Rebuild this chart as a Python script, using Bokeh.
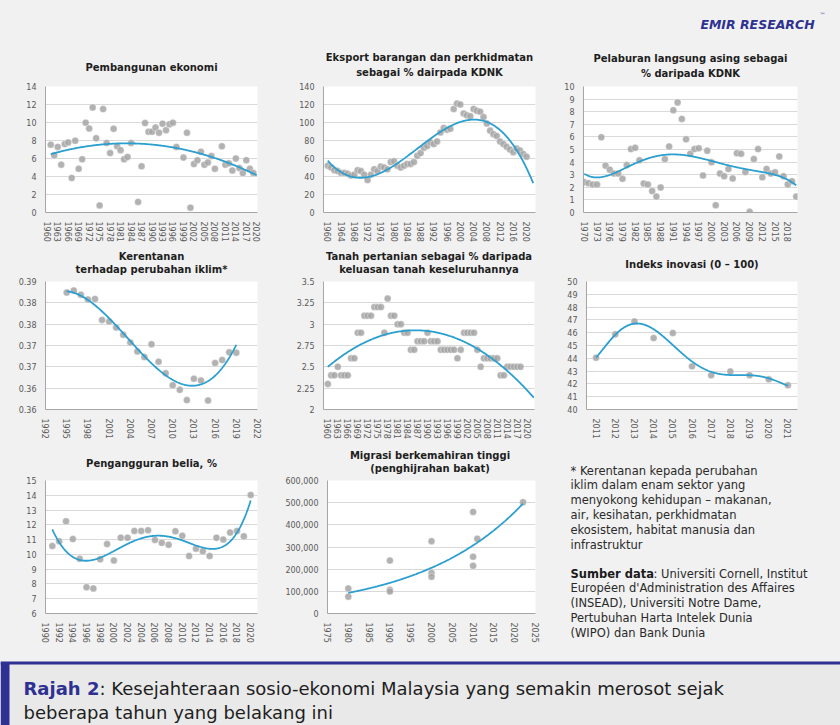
import numpy as np
from bokeh.plotting import figure
from bokeh.models import Range1d, FixedTicker, Label, NumeralTickFormatter, Span, BoxAnnotation
from bokeh.layouts import row, column
from bokeh.embed import file_html
from bokeh.resources import INLINE

# ---------------- DATA ----------------
gdp_years = [1961, 1962, 1963, 1964, 1965, 1966, 1967, 1968, 1969, 1970,
             1971, 1972, 1973, 1974, 1975, 1976, 1977, 1978, 1979, 1980,
             1981, 1982, 1983, 1984, 1986, 1987, 1988, 1989, 1990, 1991,
             1992, 1993, 1994, 1995, 1996, 1997, 1999, 2000, 2001, 2002,
             2003, 2004, 2005, 2006, 2007, 2008, 2010, 2011, 2012, 2013,
             2014, 2015, 2016, 2017, 2018, 2019]
gdp_vals = [7.54, 6.35, 7.29, 5.31, 7.6, 7.79, 3.84, 7.97, 4.85, 5.92,
            9.98, 9.33, 11.67, 8.26, 0.79, 11.49, 7.72, 6.6, 9.3, 7.36,
            6.93, 5.92, 6.17, 7.72, 1.18, 5.13, 9.94, 8.97, 8.97, 9.44,
            8.87, 9.87, 9.15, 9.8, 9.98, 7.29, 6.1, 8.87, 0.54, 5.38,
            5.81, 6.75, 5.31, 5.56, 6.28, 4.85, 7.36, 5.31, 5.46, 4.67,
            6.0, 4.95, 4.38, 5.81, 4.85, 4.4]
gdp_xticks = list(range(1960, 2021, 3))
gdp_yticks = [0, 2, 4, 6, 8, 10, 12, 14]

exp_years = list(range(1960, 2021))
exp_vals = [52, 50, 47, 46, 44, 44, 43, 41, 42, 47,
            46, 42, 36, 42, 48, 46, 51, 50, 48, 56,
            57, 52, 50, 52, 54, 54, 56, 63, 66, 72,
            74, 78, 76, 79, 89, 94, 92, 93, 115, 121,
            120, 110, 108, 107, 115, 113, 112, 106, 99, 91,
            87, 85, 79, 76, 73, 70, 67, 71, 69, 65, 62]
exp_xticks = list(range(1960, 2021, 4))
exp_yticks = [0, 20, 40, 60, 80, 100, 120, 140]

fdi_years = list(range(1970, 2021))
fdi_vals = [2.41, 2.33, 2.23, 2.23, 5.97, 3.72, 3.40, 3.09, 3.09, 2.67,
            3.77, 5.03, 5.13, 4.14, 2.30, 2.23, 1.70, 1.26, 1.99, 4.24,
            5.24, 8.12, 8.74, 7.43, 5.81, 4.66, 5.03, 5.10, 2.93, 4.90,
            3.98, 0.58, 3.09, 2.88, 3.46, 2.70, 4.71, 4.66, 3.22, 0.05,
            4.24, 5.03, 2.80, 3.46, 3.09, 3.19, 4.45, 2.88, 2.23, 2.49, 1.26]
fdi_xticks = list(range(1970, 2019, 3))
fdi_yticks = list(range(0, 11))

vul_years = list(range(1995, 2020))
vul_vals = [0.3824, 0.3829, 0.3819, 0.3808, 0.3809, 0.3760, 0.3756, 0.3742,
            0.3725, 0.3707, 0.3686, 0.3673, 0.3703, 0.3662, 0.3635, 0.3607,
            0.3596, 0.3572, 0.3622, 0.3618, 0.3571, 0.3659, 0.3666, 0.3684,
            0.3683]
vul_xticks = list(range(1992, 2023, 3))
vul_yticks = [0.355, 0.36, 0.365, 0.37, 0.375, 0.38, 0.385]
vul_ylabels = ["0.36", "0.36", "0.37", "0.37", "0.38", "0.38", "0.39"]

agr_years = list(range(1960, 2019))
agr_vals = [2.3, 2.4, 2.4, 2.5, 2.4, 2.4, 2.4, 2.6, 2.6, 2.9,
            2.9, 3.1, 3.1, 3.1, 3.2, 3.2, 3.2, 2.9, 3.3, 3.1,
            3.1, 3.0, 3.0, 2.9, 2.9, 2.7, 2.7, 2.8, 2.8, 2.8,
            2.9, 2.8, 2.8, 2.8, 2.7, 2.7, 2.7, 2.7, 2.7, 2.6,
            2.7, 2.9, 2.9, 2.9, 2.9, 2.7, 2.5, 2.6, 2.6, 2.6,
            2.6, 2.6, 2.4, 2.4, 2.5, 2.5, 2.5, 2.5, 2.5]
agr_xticks = list(range(1960, 2021, 3))
agr_yticks = [2.0, 2.25, 2.5, 2.75, 3.0, 3.25, 3.5]
agr_ylabels = ["2", "2.25", "2.5", "2.75", "3", "3.25", "3.5"]

gii_years = list(range(2011, 2022))
gii_vals = [44.05, 45.87, 46.88, 45.58, 45.97, 43.37, 42.68, 42.97, 42.68, 42.36, 41.89]
gii_xticks = list(range(2011, 2022))
gii_yticks = list(range(40, 51))

yun_years = list(range(1991, 2021))
yun_vals = [10.57, 10.89, 12.24, 11.04, 9.7, 7.78, 7.7, 9.67, 10.7, 9.59,
            11.13, 11.13, 11.59, 11.59, 11.63, 10.98, 10.78, 10.65, 11.57, 11.26,
            9.89, 10.39, 10.22, 9.89, 11.13, 11.0, 11.48, 11.59, 11.22, 14.02]
yun_xticks = list(range(1990, 2021, 2))
yun_yticks = list(range(6, 16))

mig_years = [1980, 1980, 1990, 1990, 1990, 2000, 2000, 2000, 2010, 2010, 2010, 2011, 2022]
mig_vals = [112700, 76100, 238600, 106900, 99600, 326500, 183000, 165400,
            458300, 256200, 215200, 336800, 502200]
mig_xticks = list(range(1975, 2026, 5))
mig_yticks = [0, 100000, 200000, 300000, 400000, 500000, 600000]

titles = {
    "p1": ["Pembangunan ekonomi"],
    "p2": ["Eksport barangan dan perkhidmatan", "sebagai % dairpada KDNK"],
    "p3": ["Pelaburan langsung asing sebagai", "% daripada KDNK"],
    "p4": ["Kerentanan", "terhadap perubahan iklim*"],
    "p5": ["Tanah pertanian sebagai % daripada", "keluasan tanah keseluruhannya"],
    "p6": ["Indeks inovasi (0 \u2013 100)"],
    "p7": ["Pengangguran belia, %"],
    "p8": ["Migrasi berkemahiran tinggi", "(penghijrahan bakat)"],
}

note_lines = ["* Kerentanan kepada perubahan",
              "iklim dalam enam sektor yang",
              "menyokong kehidupan \u2013 makanan,",
              "air, kesihatan, perkhidmatan",
              "ekosistem, habitat manusia dan",
              "infrastruktur"]
source_bold = "Sumber data"
source_lines = [": Universiti Cornell, Institut",
                "Europ\u00e9en d'Administration des Affaires",
                "(INSEAD), Universiti Notre Dame,",
                "Pertubuhan Harta Intelek Dunia",
                "(WIPO) dan Bank Dunia"]
caption_bold = "Rajah 2"
caption_1 = ": Kesejahteraan sosio-ekonomi Malaysia yang semakin merosot sejak"
caption_2 = "beberapa tahun yang belakang ini"

# ---------------- STYLE ----------------
BG = "#f1f1f1"
PT = "#a5a5a5"
TR = "#2b9fcf"
NAVY = "#2e3192"
FONT = "DejaVu Sans"
TICK = "#595959"


def trend_poly(x, y, deg, x0, x1):
    x = np.asarray(x, float)
    y = np.asarray(y, float)
    m = x.mean()
    c = np.polyfit(x - m, y, deg)
    xs = np.linspace(x0, x1, 300)
    return xs, np.polyval(c, xs - m)


def trend_exp(x, y, x0, x1):
    x = np.asarray(x, float)
    y = np.asarray(y, float)
    m = x.mean()
    c = np.polyfit(x - m, np.log(y), 1)
    xs = np.linspace(x0, x1, 300)
    return xs, np.exp(np.polyval(c, xs - m))


def panel(w, h, borders, xr, yr, xticks, yticks, ylabels=None, yfmt=None):
    l, r, t, b = borders
    p = figure(width=w, height=h, x_range=Range1d(*xr), y_range=Range1d(*yr),
               output_backend="svg", toolbar_location=None,
               min_border_left=l, min_border_right=r,
               min_border_top=t, min_border_bottom=b,
               background_fill_color="white", border_fill_color=BG,
               outline_line_color=None)
    p.xaxis.ticker = FixedTicker(ticks=xticks)
    p.yaxis.ticker = FixedTicker(ticks=yticks)
    p.xgrid.grid_line_color = None
    p.ygrid.ticker = FixedTicker(ticks=yticks)
    p.ygrid.grid_line_color = "#d9d9d9"
    for ax in (p.xaxis, p.yaxis):
        ax.axis_line_color = "#a6a6a6"
        ax.major_tick_line_color = None
        ax.minor_tick_line_color = None
        ax.major_label_text_font = FONT
        ax.major_label_text_font_size = "8px"
        ax.major_label_text_color = TICK
        ax.major_label_standoff = 3
    p.xaxis.major_label_orientation = "vertical"
    if ylabels is not None:
        p.yaxis.major_label_overrides = dict(zip(yticks, ylabels))
    if yfmt is not None:
        p.yaxis.formatter = yfmt
    return p


def dots(p, x, y):
    p.scatter(x, y, size=7, fill_color=PT, fill_alpha=0.85,
              line_color="white", line_alpha=0.55, line_width=0.7)


def tline(p, xs, ys, color=TR):
    p.line(xs, ys, line_color=color, line_width=1.8)


def blank(w, h, bg=BG):
    p = figure(width=w, height=h, x_range=Range1d(0, w), y_range=Range1d(h, 0),
               x_axis_type=None, y_axis_type=None, output_backend="svg",
               toolbar_location=None, min_border=0, background_fill_color=bg,
               border_fill_color=bg, outline_line_color=None)
    p.xgrid.visible = False
    p.ygrid.visible = False
    return p


def txt(p, x, y, s, size, bold=False, align="left", color="#1e1e1e", style=None):
    p.add_layout(Label(x=x, y=y, text=s, text_align=align, text_baseline="middle",
                       text_font=FONT,
                       text_font_style=style if style else ("bold" if bold else "normal"),
                       text_font_size=size, text_color=color))


def put_title(p, key, cx, ys):
    for s, yy in zip(titles[key], ys):
        txt(p, cx, yy, s, "10px", bold=True, align="center")


W1, W2, W3 = 282, 268, 290
WT = W1 + W2 + W3

sA = blank(WT, 80)
txt(sA, 757, 24, "EMIR RESEARCH", "12.5px", align="center", color=NAVY, style="bold italic")
txt(sA, 822, 14, "\u2122", "6px", align="center", color=NAVY)
put_title(sA, "p1", 151, [67])
put_title(sA, "p2", 429, [57, 72])
put_title(sA, "p3", 690, [58, 73])

p1 = panel(W1, 164, (45, 25, 6, 30), (1959.5, 2020.2), (0, 14), gdp_xticks, gdp_yticks)
dots(p1, gdp_years, gdp_vals)
tline(p1, *trend_poly(gdp_years, gdp_vals, 2, 1961, 2020))

p2 = panel(W2, 164, (41, 15, 6, 30), (1958.7, 2022.7), (0, 140), exp_xticks, exp_yticks)
dots(p2, exp_years, exp_vals)
tline(p2, *trend_poly(exp_years, exp_vals, 3, 1960, 2022))

p3 = panel(W3, 164, (33, 43, 6, 30), (1969.8, 2020.3), (0, 10), fdi_xticks, fdi_yticks)
dots(p3, fdi_years, fdi_vals)
tline(p3, *trend_poly(fdi_years, fdi_vals, 5, 1970, 2020))

sB = blank(WT, 31)
put_title(sB, "p4", 151, [12, 25])
put_title(sB, "p5", 428.5, [12, 25])
put_title(sB, "p6", 691.5, [20])

p4 = panel(W1, 166, (45, 25, 6, 24), (1992, 2022), (0.355, 0.385), vul_xticks, vul_yticks,
           ylabels=vul_ylabels)
dots(p4, vul_years, vul_vals)
tline(p4, *trend_poly(vul_years, vul_vals, 3, 1995, 2019))

p5 = panel(W2, 166, (41, 16, 6, 24), (1958.7, 2022.2), (2, 3.5), agr_xticks, agr_yticks,
           ylabels=agr_ylabels)
dots(p5, agr_years, agr_vals)
tline(p5, *trend_poly(agr_years, agr_vals, 2, 1960, 2022))

p6 = panel(W3, 166, (36, 43, 6, 24), (2010.5, 2021.5), (40, 50), gii_xticks, gii_yticks)
dots(p6, gii_years, gii_vals)
tline(p6, *trend_poly(gii_years, gii_vals, 6, 2011, 2021))

sC = blank(W1 + W2, 34)
put_title(sC, "p7", 151, [22])
put_title(sC, "p8", 429.5, [14, 27])

p7 = panel(W1, 170, (45, 25, 5, 28), (1990, 2021), (6, 15), yun_xticks, yun_yticks)
dots(p7, yun_years, yun_vals)
tline(p7, *trend_poly(yun_years, yun_vals, 5, 1991, 2020))

p8 = panel(W2, 170, (42, 15, 5, 28), (1975, 2025), (0, 600000), mig_xticks, mig_yticks,
           yfmt=NumeralTickFormatter(format="0,0"))
dots(p8, mig_years, mig_vals)
tline(p8, *trend_exp(mig_years, mig_vals, 1980, 2022))

p9 = blank(W3, 204)
for i, s in enumerate(note_lines):
    txt(p9, 20, 29 + i * 14.8, s, "11.5px", color="#2a2a2a")
txt(p9, 20, 132, source_bold, "11.5px", bold=True, color="#1a1a1a")
for i, s in enumerate(source_lines):
    txt(p9, 103 if i == 0 else 20, 132 + i * 14.8, s, "11.5px", color="#2a2a2a")

pf = blank(WT, 80)
pf.add_layout(BoxAnnotation(left=0, right=WT, top=17, bottom=80, fill_color="#e9e9e9",
                            fill_alpha=1, line_color=None))
pf.add_layout(Span(location=17.5, dimension="width", line_color=NAVY, line_width=3))
pf.add_layout(BoxAnnotation(left=0, right=9, top=17, bottom=80, fill_color=NAVY,
                            fill_alpha=1, line_color=None))
txt(pf, 23, 43, caption_bold, "18px", bold=True, color=NAVY)
txt(pf, 99, 43, caption_1, "18px")
txt(pf, 23, 67, caption_2, "18px")

bgs = {"background-color": BG}
bottom = row(column(sC, row(p7, p8, styles=bgs), styles=bgs), p9, styles=bgs)
layout = column(sA, row(p1, p2, p3, styles=bgs), sB, row(p4, p5, p6, styles=bgs),
                bottom, pf, styles=bgs)

open("out.html", "w").write(file_html(layout, INLINE))
